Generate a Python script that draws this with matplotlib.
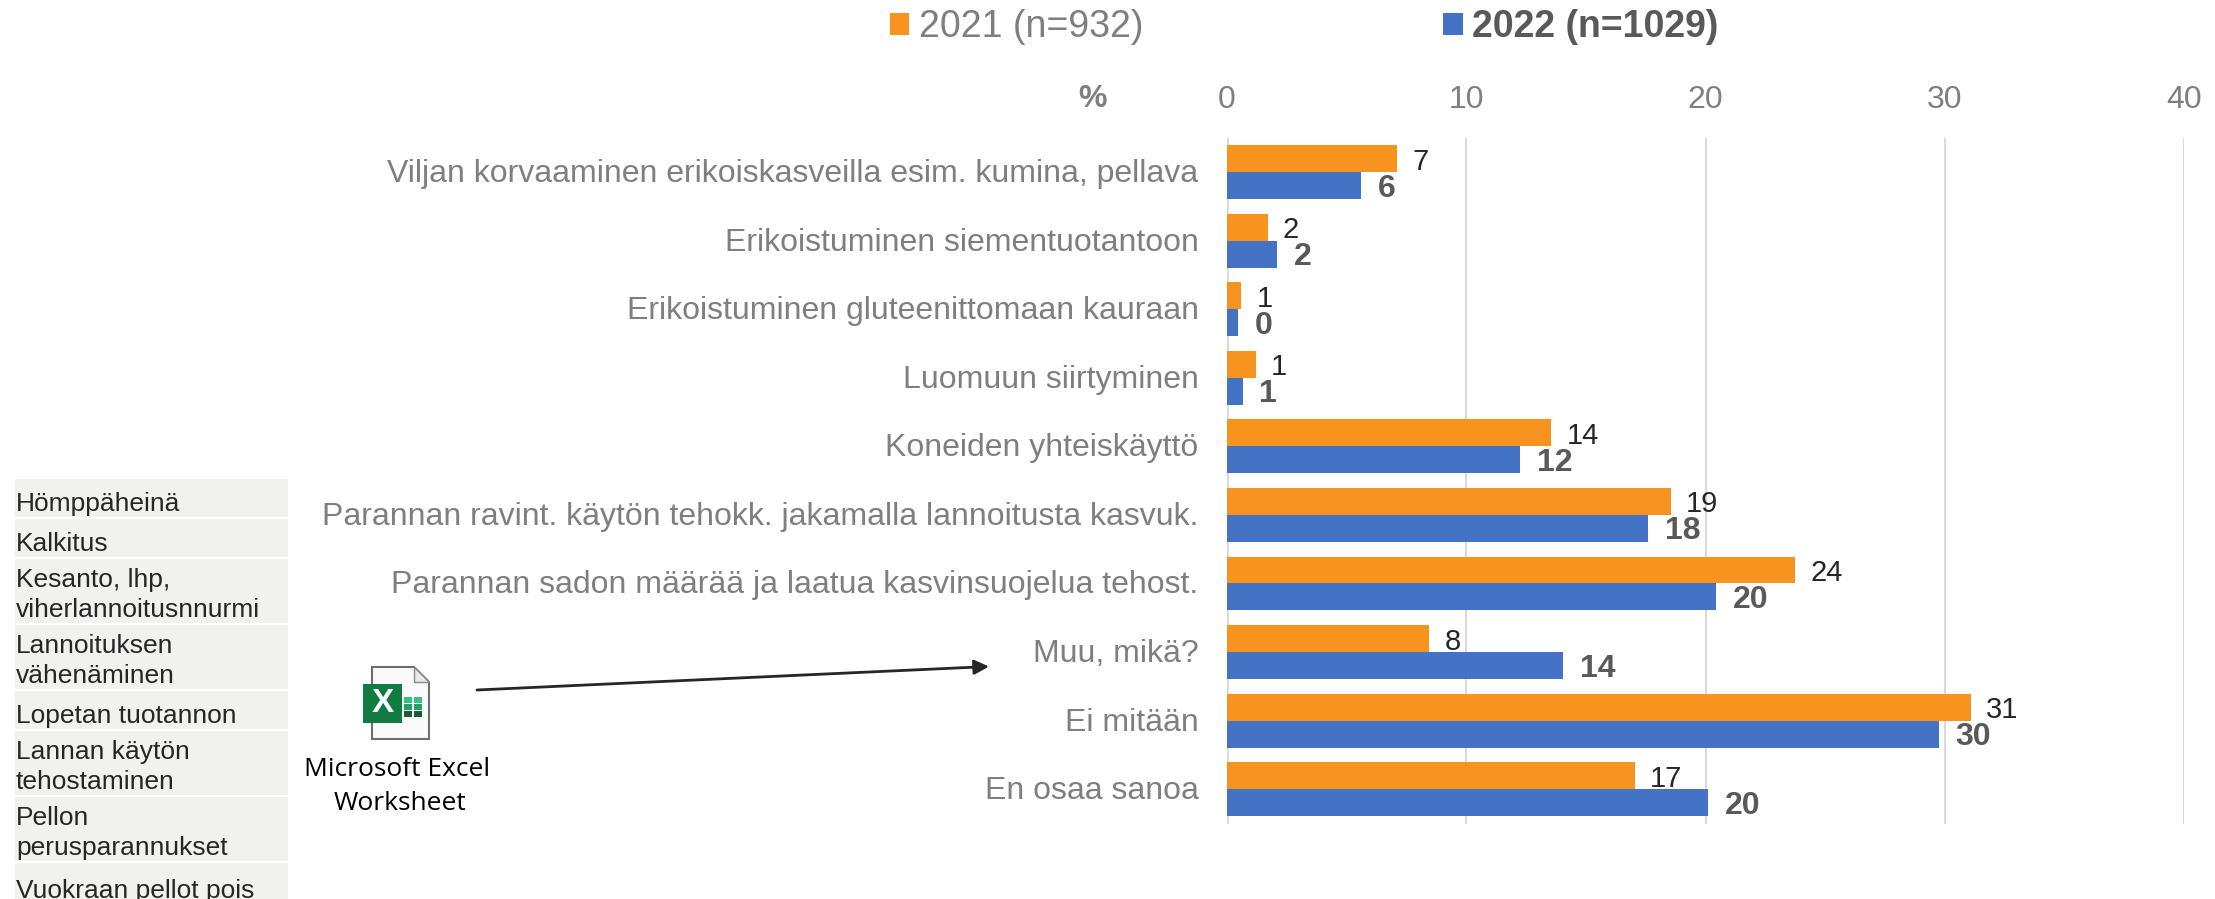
import matplotlib
matplotlib.use("Agg")
import matplotlib.pyplot as plt
from matplotlib.patches import Rectangle, Polygon
from matplotlib.transforms import ScaledTranslation
import numpy as np

plt.rcParams['font.family'] = ['Liberation Sans', 'DejaVu Sans']

categories = [
    "Viljan korvaaminen erikoiskasveilla esim. kumina, pellava",
    "Erikoistuminen siementuotantoon",
    "Erikoistuminen gluteenittomaan kauraan",
    "Luomuun siirtyminen",
    "Koneiden yhteiskäyttö",
    "Parannan ravint. käytön tehokk. jakamalla lannoitusta kasvuk.",
    "Parannan sadon määrää ja laatua kasvinsuojelua tehost.",
    "Muu, mikä?",
    "Ei mitään",
    "En osaa sanoa",
]
values_2021 = [7.1, 1.7, 0.6, 1.2, 13.55, 18.55, 23.75, 8.45, 31.1, 17.05]
values_2022 = [5.6, 2.1, 0.45, 0.65, 12.25, 17.6, 20.45, 14.05, 29.75, 20.1]
x_ticks = [0, 10, 20, 30, 40]
label_2021 = "2021 (n=932)"
label_2022 = "2022 (n=1029)"
table_rows = [
    "Hömppäheinä",
    "Kalkitus",
    "Kesanto, lhp,\nviherlannoitusnnurmi",
    "Lannoituksen\nvähenäminen",
    "Lopetan tuotannon",
    "Lannan käytön\ntehostaminen",
    "Pellon\nperusparannukset",
    "Vuokraan pellot pois",
]

W, H = 2215, 899
ORANGE = "#F7931E"
BLUE = "#4472C4"
GRAY = "#7F7F7F"

fig = plt.figure(figsize=(W / 100, H / 100), dpi=100)

# chart area, placed in pixels
left, right, top, bottom = 1227, 2184, 137.7, 823.5
ax = fig.add_axes([left / W, 1 - bottom / H, (right - left) / W, (bottom - top) / H])

y = np.arange(len(categories))
bar_h = 0.393
bars_a = ax.barh(y - bar_h / 2, values_2021, bar_h, color=ORANGE, label=label_2021, zorder=3)
bars_b = ax.barh(y + bar_h / 2, values_2022, bar_h, color=BLUE, label=label_2022, zorder=3)
texts_a = ax.bar_label(bars_a, fmt='%.0f', fontsize=21, color="#262626")
texts_b = ax.bar_label(bars_b, fmt='%.0f', fontsize=23, color="#595959", fontweight='bold')
for t in texts_a:
    t.xyann = (11, -2.2)
for t in texts_b:
    t.xyann = (12, -2.2)

ax.set_xlim(0, 40)
ax.set_ylim(len(categories) - 0.5, -0.5)
ax.xaxis.tick_top()
ax.set_xticks(x_ticks)
ax.set_yticks(y)
ax.set_yticklabels(categories, fontsize=23, color=GRAY, va='center')
ax.tick_params(axis='both', length=0)
ax.tick_params(axis='y', pad=20.5)
ax.tick_params(axis='x', pad=16, labelsize=23, labelcolor=GRAY)
ax.grid(axis='x', color="#D9D9D9", linewidth=1.5, zorder=0)
for s in ax.spines.values():
    s.set_visible(False)
ax.axvline(0, color="#D9D9D9", linewidth=2, zorder=1)

# category labels sit a little lower than tick centre
down = ScaledTranslation(0, -2 / 100, fig.dpi_scale_trans)
for lab in ax.get_yticklabels():
    lab.set_transform(lab.get_transform() + down)

leg = fig.legend(loc='center left', bbox_to_anchor=(856 / W, 1 - 27 / H), ncol=2, frameon=False,
                 fontsize=27, handlelength=0.52, handleheight=0.52, handletextpad=0.25,
                 columnspacing=8.0, labelcolor="#7F7F7F")
leg.get_texts()[1].set_fontweight('bold')
leg.get_texts()[1].set_color("#595959")

# overlay in image pixels for the pasted table, icon and arrow
ov = fig.add_axes([0, 0, 1, 1], zorder=5)
ov.set_xlim(0, W)
ov.set_ylim(H, 0)
ov.axis('off')

ov.text(1093, 99, "%", fontsize=23, fontweight='bold', color=GRAY, ha='center', va='center')

box_tops = [479, 519, 559, 625, 691, 731, 797, 863]
box_bottoms = [517, 557, 623, 689, 729, 795, 861, 904]  # last row runs off the image
for row, y0, y1 in zip(table_rows, box_tops, box_bottoms):
    ov.add_patch(Rectangle((15, y0), 273, y1 - y0, color="#F1F1F0", lw=0))
    ov.text(16, y1 - 1, row, fontsize=19, color="#262626", ha='left', va='bottom', linespacing=1.33)

ov.annotate("", xy=(989, 666.5), xytext=(477, 690),
            arrowprops=dict(arrowstyle='-|>', color="#262626", lw=2, mutation_scale=22, shrinkA=0, shrinkB=0))

# excel icon
ov.add_patch(Polygon([(372, 667), (414, 667), (429, 682), (429, 739), (372, 739)], closed=True,
                     facecolor="#FAFAFA", edgecolor="#6E6E6E", lw=1.5))
ov.add_patch(Polygon([(414, 667), (414, 682), (429, 682)], closed=True, facecolor="#E8E8E8",
                     edgecolor="#8A8A8A", lw=1))
ov.add_patch(Rectangle((363, 684), 39, 39, color="#107C41", lw=0))
ov.text(382.5, 703.5, "X", fontsize=24, fontweight='bold', color="white", ha='center', va='center')
for i, c in enumerate(["#33C481", "#21A366", "#185C37"]):
    for j in range(2):
        ov.add_patch(Rectangle((404 + j * 10, 697 + i * 7), 8, 5.5, color=c, lw=0))
ov.text(397, 769, "Microsoft Excel", fontsize=19, family='Open Sans', color="black", ha='center', va='center')
ov.text(400, 803, "Worksheet", fontsize=19, family='Open Sans', color="black", ha='center', va='center')

fig.savefig("out.png", dpi=100)
